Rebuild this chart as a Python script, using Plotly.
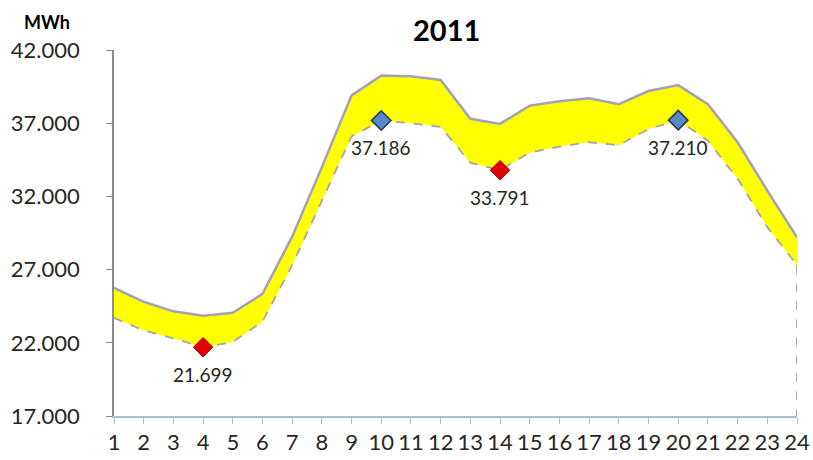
import plotly.graph_objects as go

hours = list(range(1, 25))
upper = [25750, 24800, 24150, 23850, 24050, 25350, 29250, 34000, 38900, 40250,
         40200, 39950, 37300, 36950, 38200, 38500, 38700, 38300, 39200, 39600,
         38300, 35700, 32400, 29200]
lower = [23700, 22850, 22300, 21699, 22050, 23450, 27300, 31700, 36100, 37186,
         37000, 36750, 34300, 33791, 35000, 35400, 35700, 35500, 36600, 37210,
         35800, 33200, 29900, 27300]
min_hours = [4, 14]
max_hours = [10, 20]
y_ticks = [17000, 22000, 27000, 32000, 37000, 42000]
y_tick_text = ["17.000", "22.000", "27.000", "32.000", "37.000", "42.000"]
title_text = "2011"
unit_text = "MWh"

FONT = "Lato"
W, H = 813, 460
ML, MR, MT, MB = 114, 16, 50, 44
PW, PH = W - ML - MR, H - MT - MB


def fmt(v):
    return f"{v:,}".replace(",", ".")


def px_to_paper(px, py):
    return (px - ML) / PW, (H - MB - py) / PH


fig = go.Figure()
# invisible base for fill
fig.add_trace(go.Scatter(x=hours, y=lower, mode="lines", line=dict(width=0),
                         hoverinfo="skip", showlegend=False))
fig.add_trace(go.Scatter(x=hours, y=upper, mode="lines", fill="tonexty",
                         fillcolor="#ffff00",
                         line=dict(color="#a3a1b9", width=2.5),
                         showlegend=False, cliponaxis=False))
fig.add_trace(go.Scatter(x=hours, y=lower, mode="lines",
                         line=dict(color="#a6a6a6", width=1.8, dash="dash"),
                         showlegend=False, cliponaxis=False))
# right edge of the white area
fig.add_trace(go.Scatter(x=[hours[-1], hours[-1]], y=[lower[-1], y_ticks[0]],
                         mode="lines",
                         line=dict(color="#a6a6a6", width=1.8, dash="dash"),
                         showlegend=False, cliponaxis=False))

min_y = [lower[h - 1] for h in min_hours]
max_y = [lower[h - 1] for h in max_hours]
fig.add_trace(go.Scatter(x=min_hours, y=min_y, mode="markers",
                         marker=dict(symbol="diamond", size=15, color="#e00000",
                                     line=dict(color="#b00000", width=1)),
                         showlegend=False, cliponaxis=False))
fig.add_trace(go.Scatter(x=max_hours, y=max_y, mode="markers",
                         marker=dict(symbol="diamond", size=15, color="#5b86c8",
                                     line=dict(color="#1f3a4f", width=1.5)),
                         showlegend=False, cliponaxis=False))

for h in min_hours + max_hours:
    v = lower[h - 1]
    fig.add_annotation(x=h, y=v, text=fmt(v), showarrow=False, yshift=-27,
                       font=dict(family=FONT, size=19, color="#262626"))

ux, uy = px_to_paper(47, 22)
fig.add_annotation(x=ux, y=uy, xref="paper", yref="paper", xanchor="center",
                   yanchor="middle", text=f"<b>{unit_text}</b>", showarrow=False,
                   font=dict(family=FONT, size=18, color="#000000"))
tx, ty = px_to_paper(446, 30)
fig.add_annotation(x=tx, y=ty, xref="paper", yref="paper",
                   xanchor="center", yanchor="middle", text=f"<b>{title_text}</b>",
                   showarrow=False, font=dict(family=FONT, size=29, color="#000000"))

fig.update_layout(
    width=W, height=H,
    margin=dict(l=ML, r=MR, t=MT, b=MB, autoexpand=False),
    paper_bgcolor="white", plot_bgcolor="white",
    showlegend=False,
    font=dict(family=FONT, color="#262626"),
)
fig.update_xaxes(range=[1, 24], tickvals=hours, ticktext=[str(h) for h in hours],
                 showgrid=False, zeroline=False, showline=True, automargin=False,
                 linecolor="#a7bcd6", linewidth=2,
                 ticks="outside", ticklen=6, tickcolor="#a7bcd6", tickwidth=1,
                 tickfont=dict(family=FONT, size=22, color="#262626"))
fig.update_yaxes(range=[17000, 42000], tickvals=y_ticks, ticktext=y_tick_text,
                 showgrid=False, zeroline=False, showline=True, automargin=False,
                 linecolor="#8c8c8c", linewidth=1.5,
                 ticks="outside", ticklen=6, tickcolor="#8c8c8c", tickwidth=1,
                 ticklabelstandoff=22,
                 tickfont=dict(family=FONT, size=22, color="#262626"))

fig.write_html("out.html")
